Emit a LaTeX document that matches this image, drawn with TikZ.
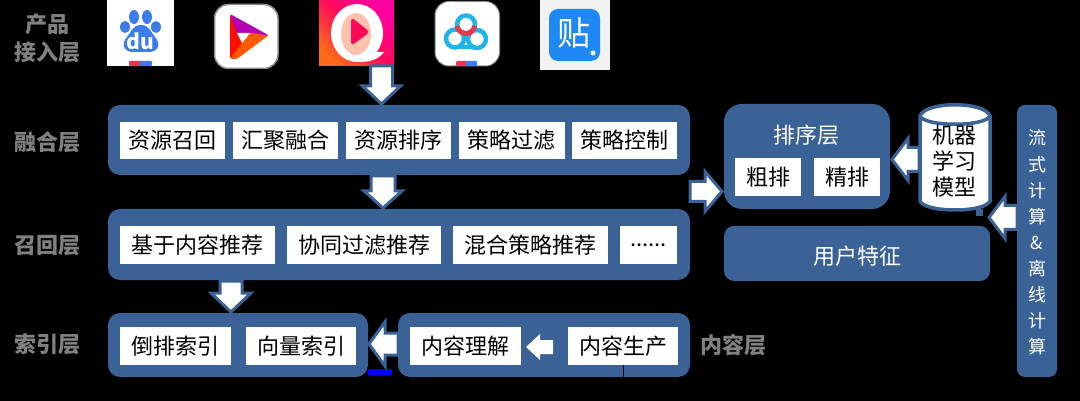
\documentclass[tikz,border=0pt]{standalone}
\usepackage{fontspec}
\setmainfont{Noto Sans CJK SC}
\usetikzlibrary{calc}
\definecolor{band}{HTML}{3A6296}
\definecolor{lay}{HTML}{808080}
\definecolor{bdblue}{HTML}{3B7DEB}
\definecolor{stripred}{HTML}{E8384F}
\definecolor{cloudc}{HTML}{1FB5E8}
\definecolor{tieblue}{HTML}{1E88F5}
\definecolor{qpink}{HTML}{FF00A0}
\definecolor{qred}{HTML}{FF0A5A}
\definecolor{qorange}{HTML}{FF6A1A}
\tikzset{
  group/.style={fill=band,rounded corners=#1,inner sep=0pt,outer sep=0pt},
  group/.default=12pt,
  inbox/.style={fill=white,inner sep=0pt,outer sep=0pt,text=black,font=\fontsize{22}{24}\selectfont,align=center},
  layer/.style={text=lay,font=\fontsize{22}{24}\selectfont\bfseries,inner sep=0pt,align=center},
  bandtxt/.style={text=white,font=\fontsize{22}{24}\selectfont,inner sep=0pt},
  vtxt/.style={text=white,font=\fontsize{18}{20}\selectfont,inner sep=0pt},
  blockarrow/.style={draw=band,fill=white,line width=3pt,line join=miter},
}
% \blockarrow{from}{to}{shaft half}{head half}{head length}
\newcommand{\blockarrow}[5]{%
  \coordinate (ba) at ($(#2)!#5!(#1)$);
  \draw[blockarrow] ($(#1)!#3!90:(#2)$) -- ($(ba)!#3!90:(#2)$) -- ($(ba)!#4!90:(#2)$) -- (#2)
    -- ($(ba)!#4!-90:(#2)$) -- ($(ba)!#3!-90:(#2)$) -- ($(#1)!#3!-90:(#2)$) -- cycle;
}
\begin{document}
\begin{tikzpicture}[x=1pt,y=-1pt]
\useasboundingbox (0,0) rectangle (1080,401);
\fill[black] (0,0) rectangle (1080,401);

% layer labels
\node[layer] (lproduct) at (47,24) {产品};
\node[layer] (laccess) at (48,52) {接入层};
\node[layer] (lfuse) at (48,142) {融合层};
\node[layer] (lrecall) at (48,246) {召回层};
\node[layer] (lindex) at (48,344) {索引层};
\node[layer] (lcontent) at (733,345) {内容层};

% icon 1: Baidu
\fill[white] (107,0) rectangle (174,66);
\fill[bdblue] (125,27) ellipse (5pt and 6pt) (134,17) ellipse (5pt and 7pt)
  (147,17) ellipse (5pt and 7pt) (156,27) ellipse (5pt and 6pt);
\fill[bdblue] (141,25) .. controls (150,25) and (151,33) .. (155,37)
  .. controls (162,45) and (157,52) .. (149,52) -- (133,52)
  .. controls (125,52) and (120,45) .. (127,37) .. controls (131,33) and (132,25) .. (141,25) -- cycle;
\node[text=white,inner sep=0pt,font=\fontsize{21}{21}\selectfont\bfseries] (du) at (140.5,41) {du};
\fill[stripred,rounded corners=1pt] (129,61) rectangle (141,66);
\fill[bdblue,rounded corners=1pt] (140,61) rectangle (152,66);

% icon 2: play
\fill[white,draw=black!45,line width=1.5pt,rounded corners=14pt] (214.5,4.5) rectangle (278,68.5);
\fill[red!90!orange,rounded corners=1.5pt] (230,14) -- (238,30) -- (243,44) -- (230,59) -- cycle;
\fill[orange!70!red,rounded corners=1.5pt] (269,35) -- (250,33) -- (242,43) -- (230,59) -- (237,59) -- cycle;
\fill[violet!60!magenta,rounded corners=1.5pt] (230,14) -- (269,35.5) -- (250,33) -- (237,33) -- cycle;
\fill[white] (237,33) -- (250,33) -- (242,43) -- cycle;

% icon 3: Q
\fill[top color=qpink,bottom color=qorange,middle color=qred,shading angle=-45] (319,0) rectangle (394,66);
\fill[white] (357,33) ellipse (26pt and 29pt);
\fill[white] (368,52) -- (384,52) .. controls (378,60) and (370,62) .. (358,62) -- cycle;
\fill[orange!20!pink!80!white] (356,34) ellipse (15pt and 21pt);
\fill[qred,rounded corners=4pt] (351,17) -- (370,32) -- (351,46) -- cycle;

% icon 4: cloud
\fill[white,draw=black!45,line width=1pt,rounded corners=14pt] (435,1.5) rectangle (499.5,66);
\draw[cloudc,line width=4.5pt] (455,38.5) circle (9pt) (477,39) circle (9pt);
\draw[cloudc,line width=4.5pt] (458,47) -- (474,47);
\draw[cloudc,line width=4.5pt] (466,24.5) circle (9pt);
\draw[stripred,line width=5pt] (457,26) arc[start angle=190,end angle=350,radius=9pt];
\fill[stripred,rounded corners=1pt] (456,61) rectangle (467,66);
\fill[bdblue,rounded corners=1pt] (466,61) rectangle (477,66);

% icon 5: Tieba
\fill[black!5] (540,0) rectangle (610,70);
\fill[tieblue,rounded corners=9pt] (549,9) rectangle (600,61);
\node[text=white,inner sep=0pt,font=\fontsize{33}{35}\selectfont] (tie) at (574,33) {贴};
\fill[white] (593,53) circle (2.5pt);

% fusion layer
\node[group,minimum width=582pt,minimum height=70pt] (gfuse) at (399,140) {};
\node[inbox,minimum width=105pt,minimum height=37pt] (f1) at (172.5,140.5) {资源召回};
\node[inbox,minimum width=105pt,minimum height=37pt] (f2) at (285.5,140.5) {汇聚融合};
\node[inbox,minimum width=105pt,minimum height=37pt] (f3) at (398.5,140.5) {资源排序};
\node[inbox,minimum width=106pt,minimum height=37pt] (f4) at (511.5,140.5) {策略过滤};
\node[inbox,minimum width=105pt,minimum height=37pt] (f5) at (624.5,140.5) {策略控制};

% recall layer
\node[group,minimum width=582pt,minimum height=71pt] (grecall) at (399,244.5) {};
\node[inbox,minimum width=155pt,minimum height=38pt] (r1) at (197.5,245) {基于内容推荐};
\node[inbox,minimum width=154pt,minimum height=38pt] (r2) at (364,245) {协同过滤推荐};
\node[inbox,minimum width=155pt,minimum height=38pt] (r3) at (530.5,245) {混合策略推荐};
\node[inbox,minimum width=57pt,minimum height=38pt] (r4) at (648.5,245) {......};

% index layer
\node[group,minimum width=260pt,minimum height=64pt] (gindex) at (238,345) {};
\node[inbox,minimum width=111pt,minimum height=38pt] (i1) at (175.5,346) {倒排索引};
\node[inbox,minimum width=110pt,minimum height=38pt] (i2) at (301,346) {向量索引};

% content layer
\node[group,minimum width=292pt,minimum height=64pt] (gcontent) at (544,345) {};
\node[inbox,minimum width=111pt,minimum height=38pt] (c1) at (465.5,346) {内容理解};
\node[inbox,minimum width=110pt,minimum height=38pt] (c2) at (623,346) {内容生产};
\coordinate (tick) at (623,377);
\draw[black,line width=1pt] (c2.south) -- (tick);
\fill[blue] (368,369) rectangle (392,375);
\coordinate (c2w) at (553,347);
\coordinate (c1e) at (526,347);
\fill[white] (c2w) ++(0,-7) -- ++(-13,0) -- ++(0,-6) -- (c1e) -- (540,360) -- ++(0,-6) -- ++(13,0) -- cycle;

% ranking
\node[group=18pt,minimum width=166pt,minimum height=105pt] (grank) at (807,156.5) {};
\node[bandtxt] (ranktitle) at (806,135) {排序层};
\node[inbox,minimum width=66pt,minimum height=38pt] (rk1) at (768,177) {粗排};
\node[inbox,minimum width=66pt,minimum height=38pt] (rk2) at (847,177) {精排};

% user features
\node[group=10pt,minimum width=266pt,minimum height=55pt] (guser) at (857,253.5) {};
\node[bandtxt] (usertxt) at (857,256) {用户特征};

% cylinder
\draw[band,line width=3.5pt,fill=white] (920,116) -- (920,201)
  .. controls (925,213) and (985,213) .. (990,201) -- (990,116)
  .. controls (985,101) and (925,101) .. (920,116) -- cycle;
\draw[band,line width=3.5pt] (920,116) .. controls (925,127) and (985,127) .. (990,116);
\node[inbox,fill=none,font=\fontsize{22}{26}\selectfont] (model) at (954,161) {机器\\学习\\模型};
\fill[band] (976,209) rectangle (983,216);

% stream bar
\node[group=8pt,minimum width=40pt,minimum height=272pt] (gstream) at (1037,241) {};
\node[vtxt] (s1) at (1037,138) {流};
\node[vtxt] (s2) at (1037,165) {式};
\node[vtxt] (s3) at (1037,191) {计};
\node[vtxt] (s4) at (1037,217) {算};
\node[vtxt] (s5) at (1037,243) {\&};
\node[vtxt] (s6) at (1037,269) {离};
\node[vtxt] (s7) at (1037,295) {线};
\node[vtxt] (s8) at (1037,321) {计};
\node[vtxt] (s9) at (1037,347) {算};

% block arrows
\coordinate (a1s) at (381.5,66);   \coordinate (a1e) at (381.5,104);
\coordinate (a2s) at (383,176);    \coordinate (a2e) at (383,208);
\coordinate (a3s) at (231,281);    \coordinate (a3e) at (231,312);
\coordinate (a4s) at (690,191.5);  \coordinate (a4e) at (722,191.5);
\coordinate (a5s) at (919,159.5);  \coordinate (a5e) at (892,159.5);
\coordinate (a6s) at (1017,217.5); \coordinate (a6e) at (989,217.5);
\coordinate (a7s) at (398,344);    \coordinate (a7e) at (369,344);
\blockarrow{a1s}{a1e}{11pt}{19pt}{18pt}
\blockarrow{a2s}{a2e}{12pt}{19pt}{17pt}
\blockarrow{a3s}{a3e}{11pt}{20pt}{19pt}
\blockarrow{a4s}{a4e}{10pt}{20pt}{17pt}
\blockarrow{a5s}{a5e}{12pt}{21pt}{16pt}
\blockarrow{a6s}{a6e}{12pt}{21pt}{16pt}
\blockarrow{a7s}{a7e}{11pt}{22pt}{16pt}
\end{tikzpicture}
\end{document}
